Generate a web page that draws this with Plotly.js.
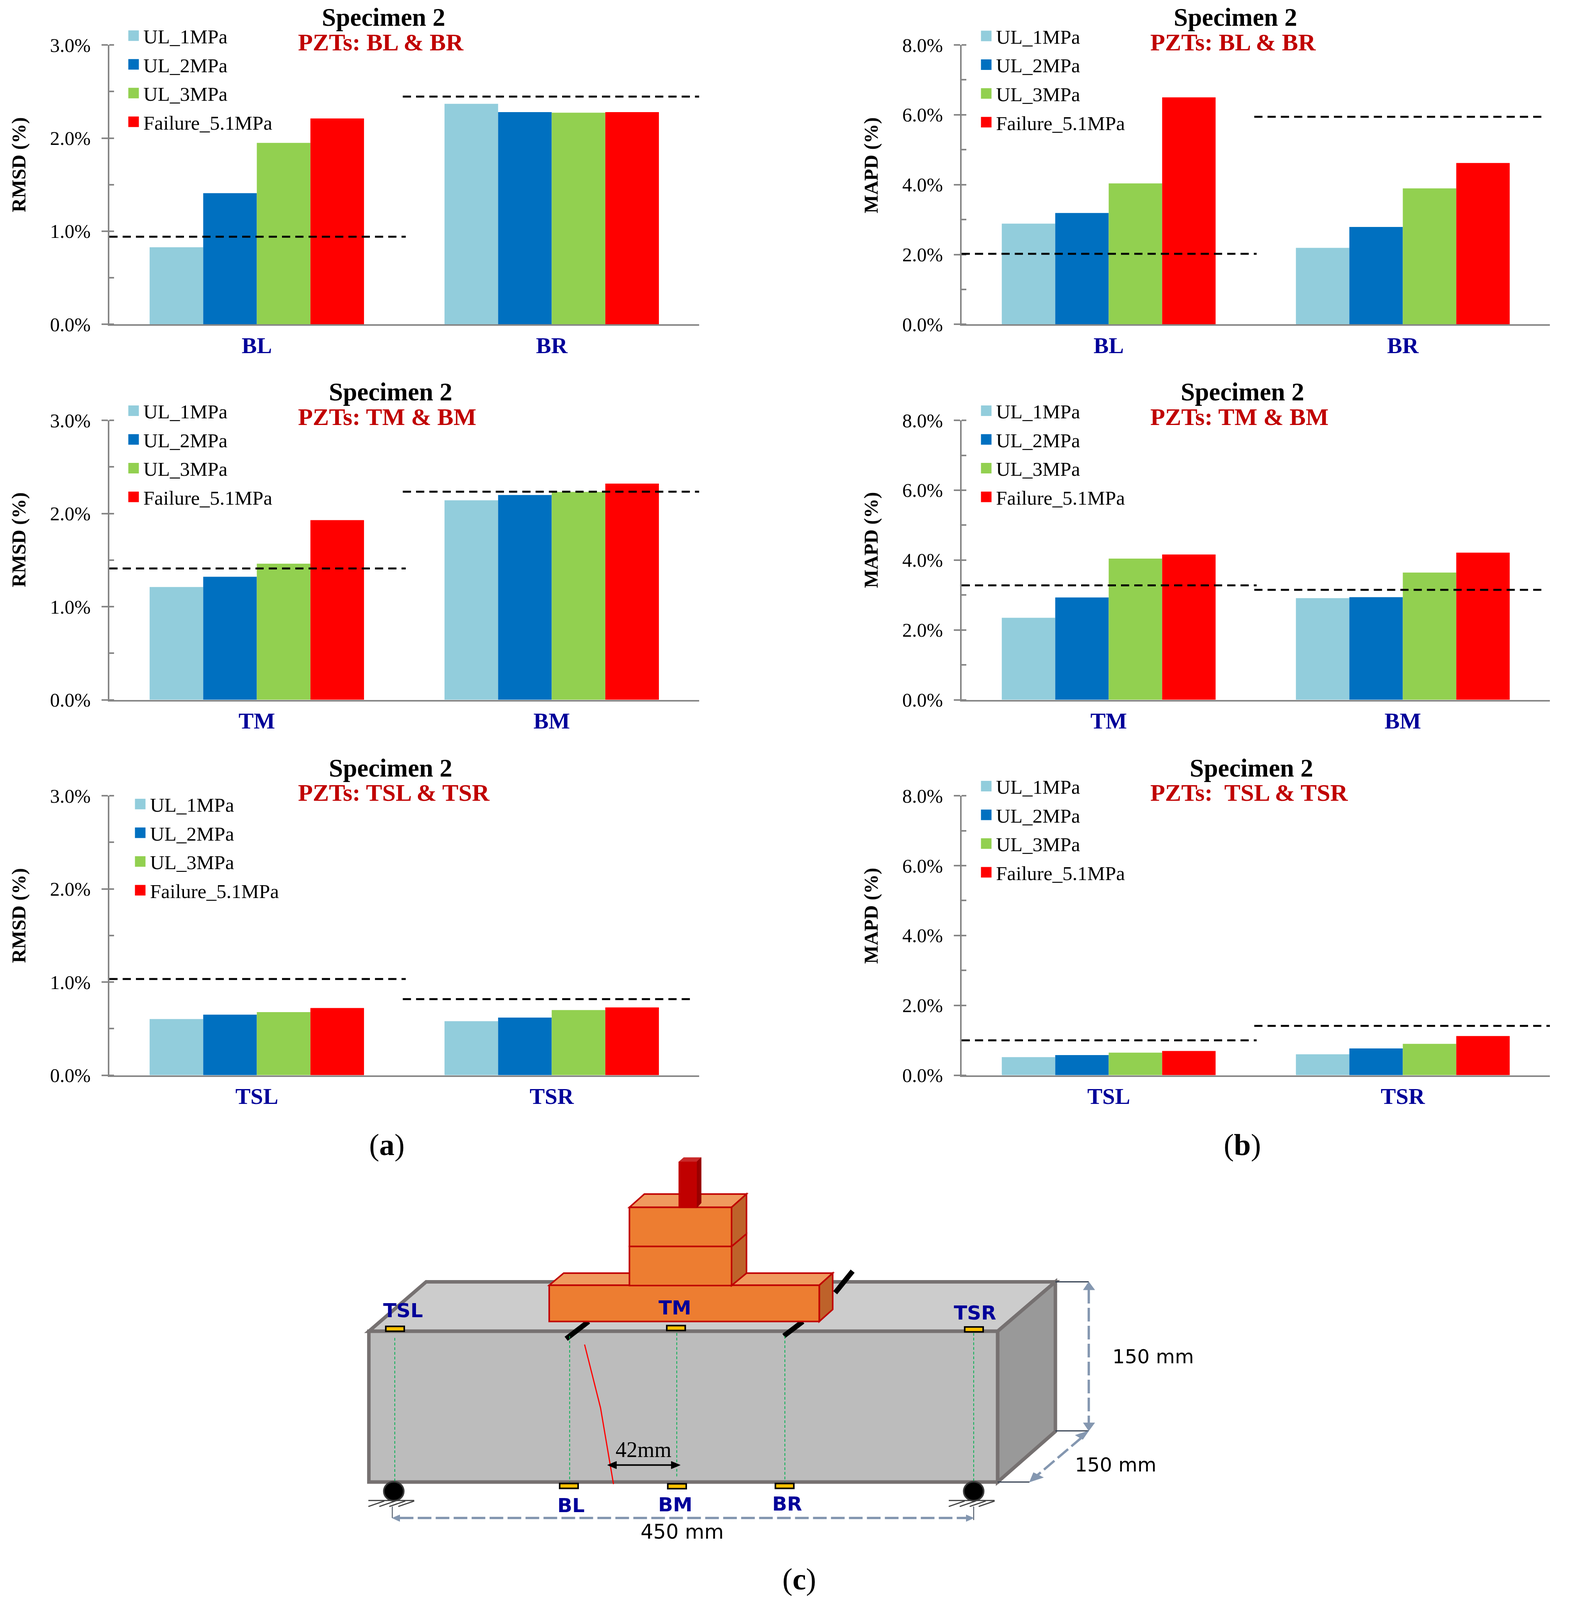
<!DOCTYPE html>
<html>
<head>
<meta charset="utf-8">
<script src="https://cdn.plot.ly/plotly-3.0.1.min.js"></script>
<style>
html,body{margin:0;padding:0;background:#fff;overflow:hidden}
/* legend swatches are a fixed 12px in plotly, the figure uses larger ones */
.legendpoints path{transform:translate(15px,0) scale(2.25)}
</style>
</head>
<body>
<div id="myDiv"></div>
<script>
var seriesNames = ['UL_1MPa', 'UL_2MPa', 'UL_3MPa', 'Failure_5.1MPa'];
var seriesColors = ['#92CDDC', '#0070C0', '#92D050', '#FF0000'];

// one row per load level, one column per sensor
var catsBottom = ['BL', 'BR'];
var catsMiddle = ['TM', 'BM'];
var catsSupport = ['TSL', 'TSR'];

var rmsdBottom = [[0.828, 2.368], [1.409, 2.279], [1.949, 2.273], [2.211, 2.279]];
var rmsdMiddle = [[1.211, 2.142], [1.321, 2.198], [1.461, 2.232], [1.929, 2.321]];
var rmsdSupport = [[0.603, 0.58], [0.65, 0.619], [0.678, 0.70], [0.722, 0.728]];
var mapdBottom = [[2.884, 2.192], [3.189, 2.789], [4.037, 3.895], [6.5, 4.62]];
var mapdMiddle = [[2.348, 2.911], [2.931, 2.938], [4.044, 3.644], [4.159, 4.214]];
var mapdSupport = [[0.517, 0.598], [0.578, 0.768], [0.646, 0.897], [0.693, 1.122]];

// dashed threshold per sensor
var rmsdBottomLimit = [0.941, 2.446];
var rmsdMiddleLimit = [1.41, 2.234];
var rmsdSupportLimit = [1.033, 0.817];
var mapdBottomLimit = [2.022, 5.944];
var mapdMiddleLimit = [3.277, 3.148];
var mapdSupportLimit = [0.999, 1.414];

// positions below are in the 4735px tall figure; fit them to the real window height
var W = 4017, sourceH = 4735;
var H = Math.min(window.innerHeight || sourceH, sourceH);
var k = H / sourceH;
var serif = 'Liberation Serif, Times New Roman, serif';
var sans = 'DejaVu Sans, sans-serif';
var navy = '#000099';
var axisGrey = '#868686';

function px(x) { return x / W; }
function py(y) { return 1 - y / sourceH; }

var panels = [
  {cats: catsBottom, vals: rmsdBottom, limit: rmsdBottomLimit, name: 'RMSD (%)', max: 3, step: 1, left: 280, right: 1790, top: 133, bottom: 960,
   titleX: 982, titleY: 51, pzt: 'PZTs: BL & BR', pztX: 761, pztY: 125, legX: 367, legY: 107, nameX: 48, nameY: 488, dashEnd: [0.505, 1.504]},
  {cats: catsBottom, vals: mapdBottom, limit: mapdBottomLimit, name: 'MAPD (%)', max: 8, step: 2, left: 2462, right: 3968, top: 133, bottom: 960,
   titleX: 3163, titleY: 51, pzt: 'PZTs: BL & BR', pztX: 2943, pztY: 125, legX: 2550, legY: 108, nameX: 2230, nameY: 489, dashEnd: [0.503, 1.483]},
  {cats: catsMiddle, vals: rmsdMiddle, limit: rmsdMiddleLimit, name: 'RMSD (%)', max: 3, step: 1, left: 280, right: 1790, top: 1244, bottom: 2071,
   titleX: 1000, titleY: 1160, pzt: 'PZTs: TM & BM', pztX: 761, pztY: 1234, legX: 367, legY: 1217, nameX: 48, nameY: 1598, dashEnd: [0.505, 1.504]},
  {cats: catsMiddle, vals: mapdMiddle, limit: mapdMiddleLimit, name: 'MAPD (%)', max: 8, step: 2, left: 2462, right: 3968, top: 1244, bottom: 2071,
   titleX: 3181, titleY: 1160, pzt: 'PZTs: TM & BM', pztX: 2943, pztY: 1234, legX: 2550, legY: 1217, nameX: 2230, nameY: 1598, dashEnd: [0.503, 1.483]},
  {cats: catsSupport, vals: rmsdSupport, limit: rmsdSupportLimit, name: 'RMSD (%)', max: 3, step: 1, left: 280, right: 1790, top: 2355, bottom: 3182,
   titleX: 1000, titleY: 2273, pzt: 'PZTs: TSL & TSR', pztX: 761, pztY: 2345, legX: 384, legY: 2381, nameX: 48, nameY: 2710, dashEnd: [0.505, 1.478]},
  {cats: catsSupport, vals: mapdSupport, limit: mapdSupportLimit, name: 'MAPD (%)', max: 8, step: 2, left: 2462, right: 3968, top: 2355, bottom: 3182,
   titleX: 3204, titleY: 2273, pzt: 'PZTs:  TSL & TSR', pztX: 2943, pztY: 2345, legX: 2550, legY: 2328, nameX: 2230, nameY: 2710, dashEnd: [0.503, 1.507]}
];

var data = [];
var shapes = [];
var annotations = [];

var layout = {
  width: W,
  height: H,
  margin: {l: 0, r: 0, t: 0, b: 0},
  paper_bgcolor: '#ffffff',
  plot_bgcolor: 'rgba(0,0,0,0)',
  barmode: 'group',
  bargap: 0.273,
  bargroupgap: 0,
  font: {family: serif, color: '#000000'},
  showlegend: true
};

function note(text, x, y, size, color, extra) {
  var a = {
    text: text, xref: 'paper', yref: 'paper', x: px(x), y: py(y),
    xanchor: 'center', yanchor: 'middle', showarrow: false,
    font: {family: serif, size: size, color: color}
  };
  for (var key in extra) a[key] = extra[key];
  annotations.push(a);
}

panels.forEach(function (p, i) {
  var n = i + 1;
  var sfx = n === 1 ? '' : String(n);
  var legendId = 'legend' + sfx;

  p.vals.forEach(function (row, s) {
    data.push({
      type: 'bar',
      x: p.cats,
      y: row,
      name: seriesNames[s],
      xaxis: 'x' + sfx,
      yaxis: 'y' + sfx,
      legend: legendId,
      legendgroup: 'p' + n + 's' + s,
      marker: {color: seriesColors[s], line: {width: 0}},
      hoverinfo: 'x+y+name'
    });
  });

  layout['xaxis' + sfx] = {
    domain: [px(p.left), px(p.right)],
    anchor: 'y' + sfx,
    type: 'category',
    range: [-0.5, 1.5],
    showgrid: false,
    zeroline: false,
    showline: true,
    linecolor: axisGrey,
    linewidth: 3.5,
    ticks: '',
    ticklabelstandoff: Math.max(0, 68 * k - 52),
    tickfont: {family: serif, size: 58, color: navy, weight: 700}
  };
  layout['yaxis' + sfx] = {
    domain: [py(p.bottom), py(p.top)],
    anchor: 'x' + sfx,
    range: [0, p.max],
    dtick: p.step,
    tick0: 0,
    tickformat: '.1f',
    ticksuffix: '%',
    showgrid: false,
    zeroline: false,
    showline: true,
    linecolor: axisGrey,
    linewidth: 3.5,
    ticks: 'outside',
    ticklen: 16,
    tickwidth: 3.5,
    tickcolor: axisGrey,
    ticklabelstandoff: 18,
    tickfont: {family: serif, size: 50, color: '#000000'},
    // offset keeps the inner tick on the major positions too
    minor: {ticks: 'inside', ticklen: 12, tickwidth: 3.5, tickcolor: axisGrey, dtick: p.step / 2, tick0: -0.0001, showgrid: false}
  };
  layout[legendId] = {
    x: px(p.legX - 40),
    y: py(p.legY - 41 / k),
    xanchor: 'left',
    yanchor: 'top',
    bgcolor: 'rgba(0,0,0,0)',
    borderwidth: 0,
    itemwidth: 30,
    tracegroupgap: Math.max(0, 85 * k - 69.3),
    font: {family: serif, size: 51, color: '#000000'}
  };

  // dashed limits run per sensor, first from the axis, second from mid plot
  var starts = [-0.5, 0.495];
  p.limit.forEach(function (v, j) {
    shapes.push({
      type: 'line', xref: 'x' + sfx, yref: 'y' + sfx,
      x0: starts[j], x1: p.dashEnd[j], y0: v, y1: v,
      line: {color: '#000000', width: 5, dash: '21px,13px'}
    });
  });

  note('Specimen 2', p.titleX, p.titleY, 65, '#000000', {font: {family: serif, size: 65, color: '#000000', weight: 700}});
  note(p.pzt, p.pztX, p.pztY, 62, '#C00000', {xanchor: 'left', font: {family: serif, size: 62, color: '#C00000', weight: 700}});
  // rotated, so its length runs along the fitted height
  note(p.name, p.nameX, p.nameY, 58, '#000000', {textangle: -90, font: {family: serif, size: Math.round(58 * k), color: '#000000', weight: 700}});
});

note('(<b>a</b>)', 990, 3388, 78, '#000000');
note('(<b>b</b>)', 3180, 3388, 78, '#000000');
note('(<b>c</b>)', 2046, 4673, 78, '#000000');

// ---- beam sketch (c): coordinates on a local grid, mapped to the page ----
function gx(x) { return px(850 + x / 0.784); }
function gy(y) { return py(3400 + y / 1.1745); }

function poly(pts, fill, lineColor, lineWidth) {
  var d = pts.map(function (q, i) {
    return (i ? 'L' : 'M') + gx(q[0]) + ',' + gy(q[1]);
  }).join(' ') + ' Z';
  shapes.push({
    type: 'path', xref: 'paper', yref: 'paper', path: d, fillcolor: fill,
    line: {color: lineColor || fill, width: lineWidth === undefined ? 1 : lineWidth}
  });
}
function seg(x0, y0, x1, y1, color, width, dash) {
  shapes.push({
    type: 'line', xref: 'paper', yref: 'paper',
    x0: gx(x0), y0: gy(y0), x1: gx(x1), y1: gy(y1),
    line: {color: color, width: width, dash: dash || 'solid'}
  });
}
function box(x0, y0, x1, y1, fill, lineColor, lineWidth) {
  poly([[x0, y0], [x1, y0], [x1, y1], [x0, y1]], fill, lineColor, lineWidth);
}
function label(text, x, y, size, weight, color) {
  annotations.push({
    text: text, xref: 'paper', yref: 'paper', x: gx(x), y: gy(y),
    xanchor: 'center', yanchor: 'middle', showarrow: false,
    font: {family: sans, size: size, color: color, weight: weight}
  });
}

var edge = '#767171';
var steel = '#8497B0';
var slate = '#333F50';
var orange = '#ED7D31', orangeTop = '#F09A5E', orangeSide = '#BE622A', brick = '#C00000';
var gauge = '#FFC000';
var green = '#00B050';

// beam
poly([[74, 634], [189, 462], [1452, 462], [1336, 634]], '#CCCCCC', edge, 9);
poly([[1336, 634], [1452, 462], [1452, 982], [1336, 1158]], '#999999', edge, 9);
box(74, 634, 1336, 1158, '#BCBCBC', edge, 9);

// loading rods
seg(470, 660, 515, 600, '#000000', 13);
seg(907, 650, 945, 600, '#000000', 13);
seg(1010, 500, 1045, 425, '#000000', 13);

// loading plate and blocks
poly([[436, 474], [465, 432], [1005, 432], [978, 474]], orangeTop, brick, 4);
poly([[978, 474], [1005, 432], [1005, 558], [978, 600]], orangeSide, brick, 4);
box(436, 474, 978, 600, orange, brick, 4);
poly([[802, 339], [832, 295], [832, 432], [802, 475]], orangeSide, brick, 4);
box(597, 339, 802, 475, orange, brick, 4);
poly([[597, 203], [627, 157], [832, 157], [802, 203]], orangeTop, brick, 4);
poly([[802, 203], [832, 157], [832, 295], [802, 339]], orangeSide, brick, 4);
box(597, 203, 802, 339, orange, brick, 4);

// loading post
poly([[696, 45], [706, 30], [741, 30], [732, 45]], '#C92A2A');
poly([[732, 45], [741, 30], [741, 188], [732, 205]], '#990000');
box(696, 45, 732, 205, brick);

// sensor sight lines
[[126, 657], [477, 650], [692, 640], [909, 650], [1288, 640]].forEach(function (g) {
  seg(g[0], g[1], g[0], g[0] === 692 ? 1145 : 1158, green, 2, '7px,5px');
});

// PZT patches
[[108, 617], [672, 614], [1270, 619], [457, 1163], [674, 1164], [890, 1163]].forEach(function (g) {
  box(g[0], g[1], g[0] + 37, g[1] + 17, gauge, '#000000', 4);
});

// crack
seg(507, 680, 539, 900, '#FF0000', 3);
seg(539, 900, 565, 1165, '#FF0000', 3);

// 42mm dimension
seg(562, 1099, 690, 1099, '#000000', 4);
poly([[553, 1099], [571, 1086], [571, 1112]], '#000000');
poly([[699, 1099], [681, 1086], [681, 1112]], '#000000');

// supports
[[124, 73], [1288, 1238]].forEach(function (r) {
  shapes.push({
    type: 'circle', xref: 'paper', yref: 'paper',
    x0: gx(r[0] - 20), x1: gx(r[0] + 20), y0: gy(1157), y1: gy(1223),
    fillcolor: '#000000', line: {color: '#3A3A3A', width: 4}
  });
  seg(r[1], 1222, r[1] + 92, 1222, '#404040', 3);
  [0, 22, 42, 60].forEach(function (d) {
    seg(r[1] + d, 1243, r[1] + d + 32, 1224, '#404040', 3);
  });
});

// overall dimensions
seg(121, 1243, 121, 1283, slate, 2);
seg(1288, 1243, 1288, 1290, slate, 2);
seg(136, 1283, 1273, 1283, steel, 6, '35px,11px');
poly([[121, 1283], [136, 1272], [136, 1295]], steel);
poly([[1288, 1283], [1273, 1272], [1273, 1295]], steel);

seg(1452, 462, 1519, 462, slate, 3);
seg(1452, 980, 1519, 980, slate, 3);
seg(1519, 490, 1519, 952, steel, 6, '35px,11px');
poly([[1519, 462], [1508, 490], [1531, 490]], steel);
poly([[1519, 980], [1508, 952], [1531, 952]], steel);

seg(1336, 1158, 1400, 1158, slate, 3);
seg(1505, 1003, 1414, 1137, steel, 6, '35px,11px');
poly([[1519, 980], [1492, 995], [1507, 1010]], steel);
poly([[1400, 1158], [1408, 1125], [1428, 1142]], steel);

// sketch text
label('TSL', 143, 562, 50, 700, navy);
label('TM', 688, 552, 50, 700, navy);
label('TSR', 1291, 570, 50, 700, navy);
label('BL', 480, 1240, 50, 700, navy);
label('BM', 689, 1236, 50, 700, navy);
label('BR', 914, 1234, 50, 700, navy);
label('450 mm', 703, 1331, 51, 400, '#000000');
label('150 mm', 1648, 722, 50, 400, '#000000');
label('150 mm', 1573, 1098, 50, 400, '#000000');
annotations.push({
  text: '42mm', xref: 'paper', yref: 'paper', x: gx(625), y: gy(1045),
  xanchor: 'center', yanchor: 'middle', showarrow: false,
  font: {family: serif, size: 56, color: '#000000'}
});

layout.shapes = shapes;
layout.annotations = annotations;

Plotly.newPlot('myDiv', data, layout, {displayModeBar: false, responsive: false});
</script>
</body>
</html>
